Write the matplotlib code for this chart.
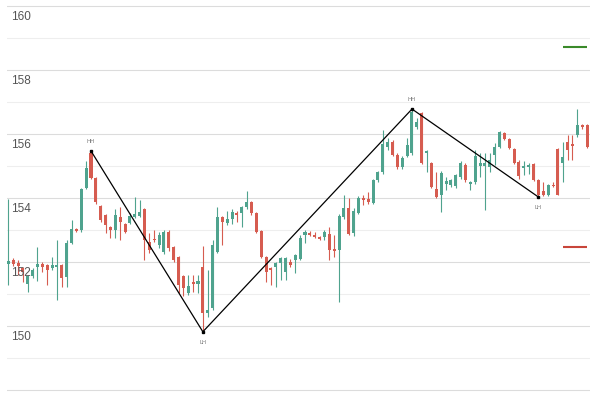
import numpy as np
import matplotlib
matplotlib.use("Agg")
import matplotlib.pyplot as plt

# OHLC, one row per candle
opens = [151.95, 152.05, 151.98, 151.8, 151.3, 151.55, 151.85, 151.95, 151.9, 151.8,
         151.85, 151.9, 151.53, 152.6, 153.03, 153.0, 154.31, 155.4, 154.63, 153.75,
         153.47, 153.1, 153.0, 153.4, 153.2, 153.22, 153.42, 153.45, 153.66, 152.63,
         152.72, 152.53, 152.3, 152.94, 152.47, 152.16, 151.56, 151.03, 151.38, 151.3,
         151.84, 150.4, 150.56, 152.31, 153.4, 153.22, 153.34, 153.52, 153.53, 153.72,
         153.88, 153.53, 152.97, 152.16, 151.8, 151.84, 151.97, 151.7, 152.0, 152.06,
         152.1, 152.85, 152.92, 152.85, 152.78, 152.78, 152.88, 152.4, 152.38, 153.4,
         153.69, 152.9, 153.53, 154.0, 153.97, 153.84, 154.56, 154.8, 155.6, 155.75,
         155.34, 154.97, 155.31, 155.4, 156.22, 156.66, 155.42, 155.1, 154.28, 154.1,
         154.45, 154.4, 154.38, 154.66, 155.03, 154.45, 154.5, 155.0, 155.0, 154.97,
         155.34, 155.6, 156.03, 155.84, 155.53, 155.12, 154.95, 154.97, 155.06, 154.56,
         154.22, 154.1, 154.42, 155.53, 155.1, 155.75, 155.68, 155.97, 156.28, 156.28]
highs = [153.97, 152.12, 152.05, 151.85, 151.6, 151.8, 152.47, 152.0, 151.95, 152.15,
         152.7, 151.95, 152.7, 153.31, 153.05, 154.3, 155.16, 155.47, 154.65, 153.78,
         153.5, 153.12, 153.65, 153.72, 153.22, 153.53, 154.03, 153.95, 153.7, 152.9,
         153.0, 152.94, 153.0, 153.0, 152.5, 152.2, 151.6, 151.6, 151.6, 151.6,
         152.5, 151.75, 152.69, 153.72, 153.45, 153.6, 153.66, 153.6, 153.75, 154.22,
         153.92, 153.56, 153.0, 152.2, 151.85, 152.0, 152.15, 152.15, 152.1, 152.25,
         152.85, 153.0, 152.98, 152.94, 152.82, 153.0, 153.1, 152.84, 153.5, 154.1,
         154.0, 153.7, 154.05, 154.1, 154.2, 154.6, 154.85, 156.12, 155.88, 155.8,
         155.4, 155.3, 155.88, 156.78, 156.5, 156.7, 155.5, 155.12, 154.8, 154.85,
         154.66, 154.6, 154.75, 155.15, 155.08, 154.52, 155.5, 155.4, 155.4, 155.4,
         155.72, 156.1, 156.06, 155.87, 155.56, 155.2, 155.16, 155.1, 155.1, 154.6,
         154.5, 154.45, 154.5, 155.56, 155.75, 155.97, 155.97, 156.78, 156.32, 156.3]
lows = [151.28, 151.88, 151.6, 151.37, 151.05, 151.5, 151.4, 151.7, 151.28, 151.75,
        150.8, 151.22, 151.22, 152.55, 152.95, 152.95, 154.28, 154.6, 153.8, 153.25,
        152.9, 152.75, 152.75, 152.69, 152.9, 153.18, 153.38, 153.4, 152.06, 152.28,
        152.62, 152.45, 152.25, 152.35, 152.0, 151.03, 150.95, 150.98, 151.05, 151.03,
        149.82, 150.28, 150.5, 152.28, 152.53, 153.15, 153.2, 153.25, 153.1, 153.65,
        153.48, 152.9, 152.12, 151.38, 151.28, 151.22, 151.44, 151.44, 151.85, 151.65,
        152.05, 152.6, 152.8, 152.74, 152.68, 152.7, 152.06, 152.16, 150.75, 153.35,
        152.85, 152.82, 153.5, 153.78, 153.82, 153.8, 154.5, 154.75, 155.5, 155.3,
        154.9, 154.9, 155.28, 155.35, 156.15, 155.05, 154.81, 154.3, 154.0, 153.56,
        154.25, 154.35, 154.3, 154.6, 154.5, 154.25, 154.45, 154.66, 153.62, 154.8,
        155.03, 155.55, 155.8, 155.52, 155.05, 154.6, 154.72, 154.75, 154.52, 154.03,
        154.05, 154.05, 154.33, 154.08, 154.5, 155.19, 155.19, 155.9, 156.15, 155.55]
closes = [152.02, 151.95, 151.88, 151.7, 151.55, 151.75, 151.95, 151.85, 151.75, 151.9,
          151.92, 151.5, 152.6, 153.03, 152.97, 154.28, 154.94, 154.63, 153.88, 153.3,
          153.16, 153.0, 153.47, 153.25, 152.94, 153.44, 153.5, 153.55, 152.69, 152.38,
          152.68, 152.84, 152.94, 152.44, 152.06, 151.28, 151.19, 151.25, 151.32, 151.4,
          150.4, 150.5, 152.53, 153.4, 153.25, 153.34, 153.56, 153.46, 153.72, 153.88,
          153.53, 152.94, 152.16, 151.69, 151.75, 151.97, 152.12, 152.12, 151.9, 152.22,
          152.75, 152.94, 152.85, 152.78, 152.72, 152.94, 152.38, 152.35, 153.44, 153.69,
          152.88, 153.6, 154.0, 153.95, 153.88, 154.56, 154.81, 155.68, 155.75, 155.34,
          154.97, 155.25, 155.65, 156.69, 156.38, 155.09, 155.47, 154.34, 154.03, 154.78,
          154.52, 154.56, 154.72, 155.1, 154.56, 154.5, 155.3, 155.1, 155.1, 155.19,
          155.6, 156.06, 155.84, 155.56, 155.09, 154.69, 155.0, 155.03, 154.56, 154.1,
          154.1, 154.4, 154.36, 154.1, 155.28, 155.5, 155.62, 156.28, 156.22, 155.6]

# zigzag pivots: candle index, label
pivot_idx = [17, 40, 83, 109]
pivot_lbl = ["HH", "LH", "HH", "LH"]
pivot_top = [True, False, True, False]

upper_level = 158.72
lower_level = 152.48
price_labels = [150, 152, 154, 156, 158, 160]

green = "#4fa38e"
red = "#d65c50"

o = np.array(opens)
h = np.array(highs)
l = np.array(lows)
c = np.array(closes)
x = np.arange(len(o))
up = c >= o
cols = np.where(up, green, red)

fig = plt.figure(figsize=(6, 4), dpi=100)
ax = fig.add_axes([7 / 600, 0, 583 / 600, 1])
ax.set_xlim(-0.27, 119.6)
ax.set_ylim(147.6875, 160.1875)

# grid: darker on even prices, lighter on odd
for v in range(148, 161):
    ax.axhline(v, color="#dcdcdc" if v % 2 == 0 else "#eeeeee", lw=0.8, zorder=0)

ax.vlines(x, l, h, colors=cols, lw=0.8, zorder=2)
body = np.maximum(np.abs(c - o), 0.03)
ax.bar(x, body, bottom=np.minimum(o, c), width=0.62, color=cols, zorder=3)

py = [h[i] if t else l[i] for i, t in zip(pivot_idx, pivot_top)]
ax.plot(pivot_idx, py, color="black", lw=0.9, zorder=4)
ax.plot(pivot_idx, py, "s", color="black", ms=1.8, zorder=5)
for i, yv, lb, t in zip(pivot_idx, py, pivot_lbl, pivot_top):
    ax.annotate(lb, (i, yv), xytext=(0, 5 if t else -6), textcoords="offset points",
                ha="center", va="bottom" if t else "top", fontsize=4, color="#777777")

n = len(o)
ax.hlines([upper_level], n - 6, n - 1, colors="#3a8a2a", lw=1.5, zorder=4)
ax.hlines([lower_level], n - 6, n - 1, colors="#c8453a", lw=1.5, zorder=4)

tr = ax.get_yaxis_transform()
for v in price_labels:
    ax.text(0.007, v - 0.16, str(v), transform=tr, ha="left", va="top",
            fontsize=8.5, color="#555555", family="Liberation Sans", zorder=6)

ax.set_axis_off()
fig.savefig("out.png", dpi=100)
